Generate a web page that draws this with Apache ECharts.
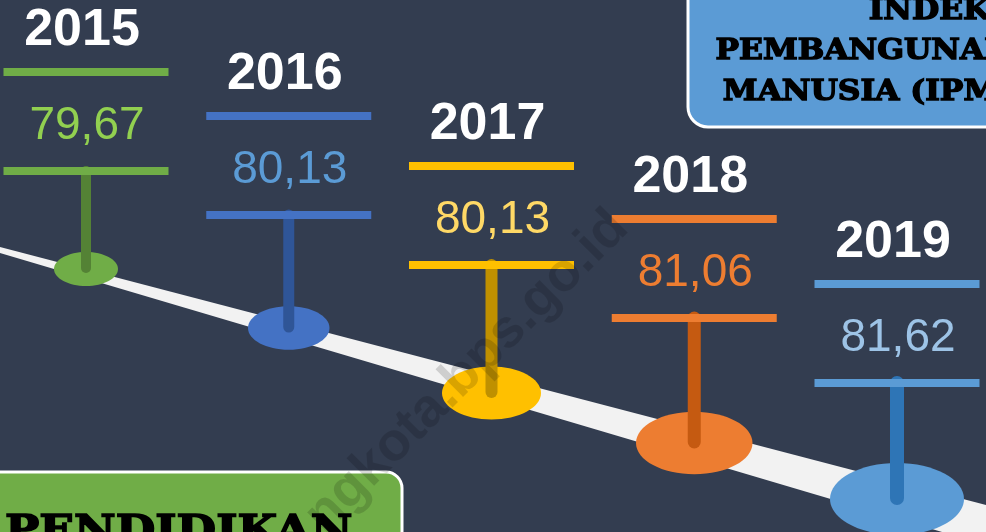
<!DOCTYPE html>
<html>
<head>
<meta charset="utf-8">
<script src="https://cdn.jsdelivr.net/npm/echarts@6/dist/echarts.min.js"></script>
<style>
  html, body { margin: 0; padding: 0; background: #333d50; }
  #chart { width: 986px; height: 532px; }
</style>
</head>
<body>
<div id="chart"></div>
<script>
const years = ['2015', '2016', '2017', '2018', '2019']
const ipmValues = [79.67, 80.13, 80.13, 81.06, 81.62]

// where each marker sits on the hidden y axis (0 = top, 532 = bottom)
const barTops = [68, 112, 162, 215, 280]
const footYs = [269, 328, 393, 443, 499]

const barColors = ['#70ad47', '#4472c4', '#ffc000', '#ed7d31', '#5b9bd5']
const valueColors = ['#92d050', '#5b9bd5', '#ffd966', '#ed7d31', '#9dc3e6']
const stemColors = ['#548235', '#2f5597', '#bf9000', '#c55a11', '#2e75b6']

const chart = echarts.init(document.getElementById('chart'))

function renderMarker(params, api) {
  const i = params.dataIndex
  const foot = api.coord([api.value(0), api.value(1)])
  const top = api.coord([api.value(0), api.value(2)])[1]
  const x = foot[0]
  const lower = top + 99
  // markers grow toward the viewer
  const rx = 32 + 8.75 * i
  const ry = 17 + 4.75 * i
  return {
    type: 'group',
    children: [
      { type: 'ellipse', shape: { cx: x, cy: foot[1], rx: rx, ry: ry }, style: { fill: barColors[i] } },
      {
        type: 'line',
        shape: { x1: x, y1: lower + 4, x2: x, y2: foot[1] - 1 },
        style: { stroke: stemColors[i], lineWidth: 10 + i, lineCap: 'round' }
      },
      { type: 'rect', shape: { x: x - 82.5, y: top, width: 165, height: 8 }, style: { fill: barColors[i] } },
      { type: 'rect', shape: { x: x - 82.5, y: lower, width: 165, height: 8 }, style: { fill: barColors[i] } },
      {
        type: 'text',
        style: {
          text: years[i], x: x - 4, y: top - 37,
          fill: '#ffffff', fontSize: 52, fontWeight: 'bold', fontFamily: 'Liberation Sans, Arial',
          align: 'center', verticalAlign: 'middle'
        }
      },
      {
        type: 'text',
        style: {
          text: api.value(3).toFixed(2).replace('.', ','), x: x + 1, y: top + 58,
          fill: valueColors[i], fontSize: 46, fontFamily: 'Liberation Sans, Arial',
          align: 'center', verticalAlign: 'middle'
        }
      }
    ]
  }
}

chart.setOption({
  backgroundColor: '#333d50',
  animation: false,
  grid: { left: 86, right: 89, top: 0, bottom: 0 },
  xAxis: { type: 'category', data: years, boundaryGap: false, show: false },
  yAxis: { type: 'value', min: 0, max: 532, inverse: true, show: false },
  graphic: [
    {
      type: 'polygon', z: 0,
      shape: { points: [[0, 247], [986, 505], [986, 545], [0, 253]] },
      style: { fill: '#f2f2f2' }
    },
    {
      type: 'rect', z: 10,
      shape: { x: 688, y: -30, width: 340, height: 157, r: 20 },
      style: { fill: '#5b9bd5', stroke: '#ffffff', lineWidth: 3 }
    },
    {
      type: 'text', z: 11, x: 1013, y: 52, scaleX: 1.12,
      style: {
        text: 'INDEKS\nPEMBANGUNAN\nMANUSIA (IPM)',
        fill: '#000000', stroke: '#000000', lineWidth: 1.4,
        fontSize: 28, fontWeight: 'bold', fontFamily: 'DejaVu Serif',
        lineHeight: 40.5, align: 'right', verticalAlign: 'middle'
      }
    },
    {
      type: 'rect', z: 10,
      shape: { x: -30, y: 472, width: 432, height: 100, r: 16 },
      style: { fill: '#70ad47', stroke: '#ffffff', lineWidth: 3 }
    },
    {
      type: 'text', z: 11, x: 5, y: 533, scaleX: 1.14,
      style: {
        text: 'PENDIDIKAN',
        fill: '#000000', stroke: '#000000', lineWidth: 1.6,
        fontSize: 40, fontWeight: 'bold', fontFamily: 'DejaVu Serif',
        align: 'left', verticalAlign: 'middle'
      }
    },
    {
      type: 'text', z: 20, x: 467, y: 372, rotation: Math.PI / 4,
      style: {
        text: 'ngkota.bps.go.id',
        fill: 'rgba(0,0,0,0.15)', fontSize: 54, fontWeight: 'bold', fontFamily: 'Liberation Sans, Arial',
        align: 'center', verticalAlign: 'middle'
      }
    }
  ],
  series: [{
    type: 'custom',
    z: 5,
    renderItem: renderMarker,
    encode: { x: 0, y: 1 },
    data: years.map((y, i) => [i, footYs[i], barTops[i], ipmValues[i]])
  }]
})
</script>
</body>
</html>
